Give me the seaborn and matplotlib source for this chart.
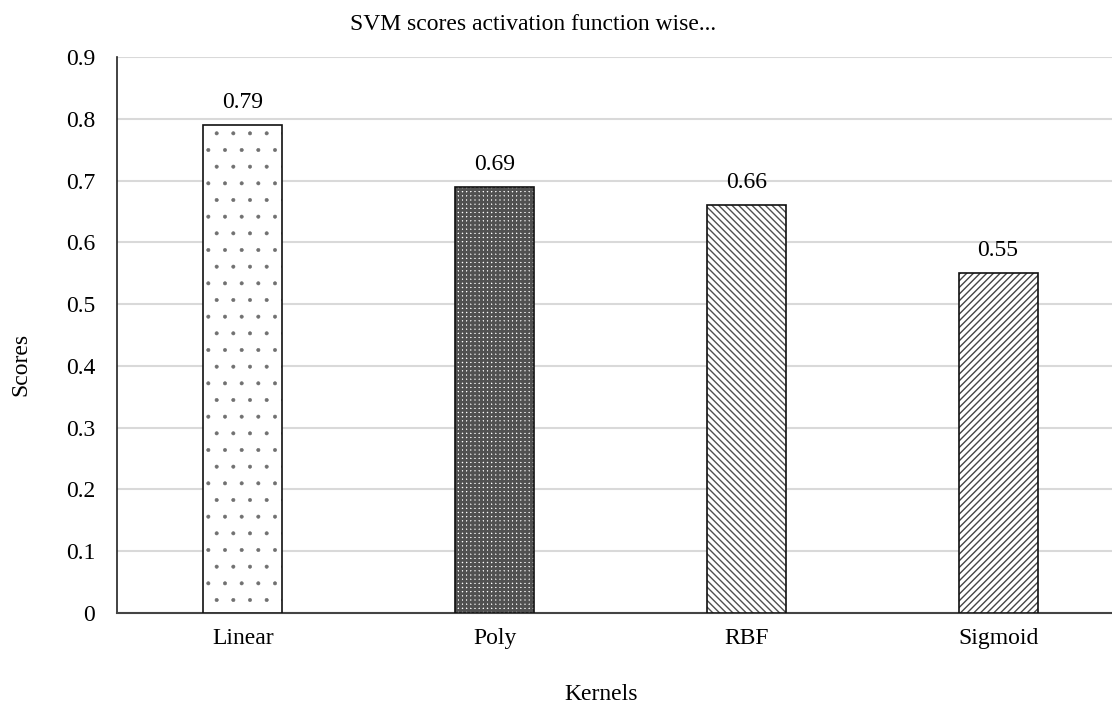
import matplotlib
matplotlib.use("Agg")
import matplotlib.pyplot as plt
import seaborn as sns
import pandas as pd
from matplotlib.colors import to_rgba
from matplotlib.ticker import FuncFormatter

kernels = ["Linear", "Poly", "RBF", "Sigmoid"]
scores = [0.79, 0.69, 0.66, 0.55]
value_labels = ["0.79", "0.69", "0.66", "0.55"]
hatches = [".", "++++", "\\\\\\\\\\", "/////"]
hatch_colors = ["#707070", "#505050", "#505050", "#454545"]
hatch_widths = [0.4, 2.0, 1.0, 1.0]

sns.set_theme(style="white")
plt.rcParams["font.family"] = ["Liberation Serif", "DejaVu Serif"]
plt.rcParams["hatch.linewidth"] = 0.9

FS = 17
df = pd.DataFrame({"Kernels": kernels, "Scores": scores})

fig = plt.figure(figsize=(11.12, 7.06), dpi=100)
W, H = 1112, 706
ax = fig.add_axes([117 / W, (H - 613) / H, 1007 / W, (613 - 57) / H])

sns.barplot(data=df, x="Kernels", y="Scores", ax=ax, width=0.314,
            color="white", edgecolor="black", linewidth=1.2, zorder=3)

for p, h, hc, hw in zip(ax.patches, hatches, hatch_colors, hatch_widths):
    p.set_hatch(h)
    p.set_facecolor("white")
    p.set_edgecolor("#111111")
    if hasattr(p, "set_hatchcolor"):
        p.set_hatchcolor(hc)
    p._hatch_color = to_rgba(hc)
    if hasattr(p, "set_hatch_linewidth"):
        p.set_hatch_linewidth(hw)
    p._hatch_linewidth = hw
    p.stale = True

ax.bar_label(ax.containers[0], labels=value_labels, padding=8.6,
             fontsize=FS, color="black")

ax.set_ylim(0, 0.9)
ax.set_xlim(-0.5, 3.5)
ax.set_yticks([i / 10 for i in range(10)])
ax.yaxis.set_major_formatter(FuncFormatter(lambda v, _: "0" if abs(v) < 1e-9 else f"{v:.1f}"))
ax.grid(axis="y", color="#d9d9d9", linewidth=1.5, zorder=0)
ax.grid(axis="x", visible=False)
ax.set_axisbelow(True)

for s in ["top", "right"]:
    ax.spines[s].set_visible(False)
ax.spines["left"].set_color("#222222")
ax.spines["left"].set_linewidth(1.2)
ax.spines["bottom"].set_color("#444444")
ax.spines["bottom"].set_linewidth(1.5)

ax.tick_params(axis="y", length=0, pad=15.8, labelsize=FS, labelcolor="black")
ax.tick_params(axis="x", length=0, pad=11, labelsize=FS, labelcolor="black")
ax.set_xlabel("")
ax.set_ylabel("")

fig.text(533 / W, 1 - 24 / H, "SVM scores activation function wise...",
         ha="center", va="center", fontsize=FS, color="black")
fig.text(21 / W, 1 - 364 / H, "Scores", rotation=90,
         ha="center", va="center", fontsize=FS, color="black")
fig.text(601 / W, 1 - 695 / H, "Kernels",
         ha="center", va="center", fontsize=FS, color="black")

fig.savefig("out.png", dpi=100)
